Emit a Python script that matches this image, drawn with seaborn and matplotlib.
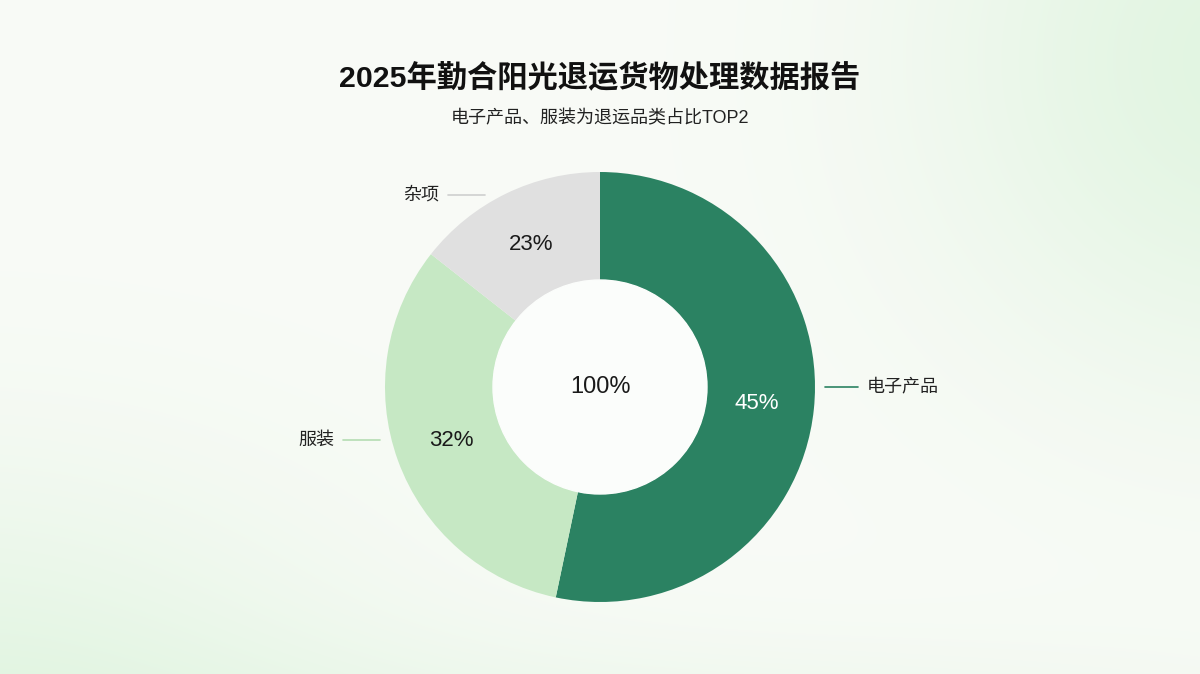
import numpy as np
import matplotlib
matplotlib.use("Agg")
import matplotlib.pyplot as plt
import seaborn as sns

# ---- data ----
categories = ["电子产品", "服装", "杂项"]
shares = [53.3, 32.3, 14.4]            # slice sizes as drawn in the reference
pct_labels = ["45%", "32%", "23%"]     # labels printed on the slices
center_label = "100%"
title = "2025年勤合阳光退运货物处理数据报告"
subtitle = "电子产品、服装为退运品类占比TOP2"

# ---- style ----
sns.set_theme(style="white")
plt.rcParams['font.family'] = ['Liberation Sans', 'Noto Sans CJK SC', 'DejaVu Sans']

colors = ["#2b8262", "#c6e8c4", "#e0e0e0"]
pct_colors = ["white", "#1a1a1a", "#1a1a1a"]
line_colors = ["#2b8262", "#b5dcb3", "#cfcfcf"]

W, H = 1200, 674
fig = plt.figure(figsize=(12, 6.74), dpi=100)

# background: soft green glows on near-white
bg = fig.add_axes([0, 0, 1, 1], zorder=-5)
yy, xx = np.mgrid[0:H, 0:W].astype(float)
base = np.array([249, 251, 247]) / 255.0
tint = np.array([222, 244, 222]) / 255.0
g1 = np.exp(-(((xx - 1250) / 330.0) ** 2 + ((yy - 60) / 330.0) ** 2))
g2 = np.exp(-(((xx + 50) / 420.0) ** 2 + ((yy - 720) / 260.0) ** 2))
g3 = np.exp(-(((xx - 650) / 700.0) ** 2 + ((yy - 760) / 110.0) ** 2)) * 0.5
w = np.clip(0.85 * g1 + 0.75 * g2 + g3, 0, 1)[..., None]
img = base * (1 - w) + tint * w
bg.imshow(img, extent=[0, W, H, 0], aspect="auto")
bg.set_axis_off()

ax = fig.add_axes([0, 0, 1, 1])
cx, cy = 600, H - 387
R = 215
ring = 108
wedges, _ = ax.pie(shares, colors=colors, startangle=90, counterclock=False,
                   radius=R, center=(cx, cy),
                   wedgeprops=dict(width=ring, linewidth=0))
hole = plt.Circle((cx, cy), R - ring, color="#fbfdfb", zorder=1)
ax.add_patch(hole)
ax.set_xlim(0, W)
ax.set_ylim(0, H)
ax.set_aspect("equal")
ax.set_axis_off()

# percent labels at wedge mid-angles
for wdg, lab, col in zip(wedges, pct_labels, pct_colors):
    mid = np.deg2rad((wdg.theta1 + wdg.theta2) / 2)
    rr = R - ring / 2 - 3
    ax.text(cx + rr * np.cos(mid), cy + rr * np.sin(mid), lab, ha="center",
            va="center", fontsize=16, color=col, zorder=3)

ax.text(cx, cy, center_label, ha="center", va="center", fontsize=17,
        color="#1a1a1a", zorder=3)

# outer labels with short horizontal leader lines (pixel layout)
label_layout = [  # (line x0, line x1, y from top, side)
    (825, 858, 387, "right"),
    (343, 380, 440, "left"),
    (448, 485, 195, "left"),
]
for (x0, x1, ytop, side), name, lc in zip(label_layout, categories, line_colors):
    y = H - ytop
    ax.plot([x0, x1], [y, y], color=lc, lw=1.2)
    if side == "right":
        ax.text(x1 + 9, y, name, ha="left", va="center", fontsize=13, color="#222222")
    else:
        ax.text(x0 - 9, y, name, ha="right", va="center", fontsize=13, color="#222222")

fig.text(0.5, 1 - 77 / H, title, ha="center", va="center", fontsize=21.8,
         fontweight="bold", color="#111111")
fig.text(0.5, 1 - 119 / H, subtitle, ha="center", va="center", fontsize=13,
         color="#222222")

fig.savefig("out.png", dpi=100)
